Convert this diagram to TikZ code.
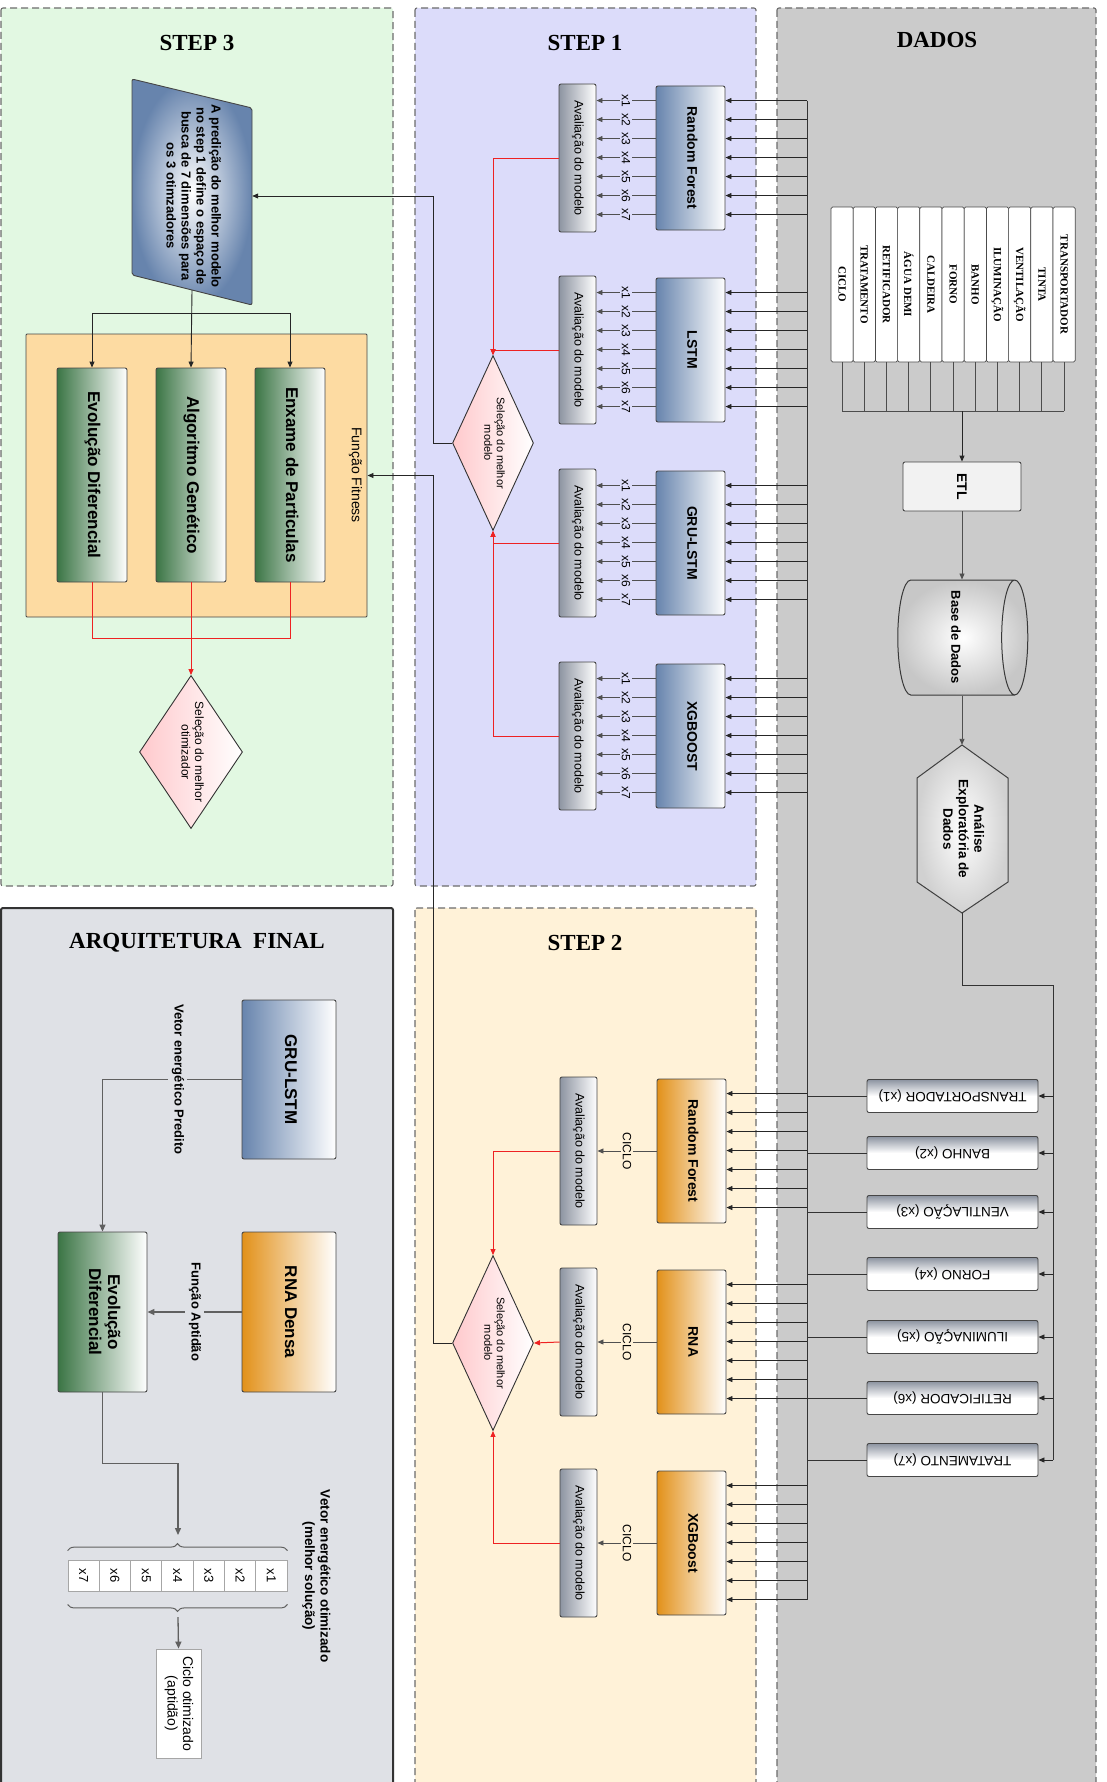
\documentclass[tikz,border=0pt]{standalone}
\usepackage{fontspec}
\setmainfont{Liberation Sans}
\newfontfamily\titlefont{Liberation Serif}
\usepackage{graphicx}
\usetikzlibrary{positioning, calc, shapes.geometric, arrows.meta, decorations.pathreplacing}

\definecolor{stepthree}{HTML}{E2F8E2}
\definecolor{stepone}{HTML}{DCDCFA}
\definecolor{steptwo}{HTML}{FFF2D8}
\definecolor{dadosbg}{HTML}{CBCBCB}
\definecolor{arqbg}{HTML}{DFE1E6}
\definecolor{fitbg}{HTML}{FDDBA2}
\definecolor{myblue}{HTML}{6784AD}
\definecolor{mygreen}{HTML}{3B7545}
\definecolor{myorange}{HTML}{E2911A}
\definecolor{evalgray}{HTML}{8D94A1}
\definecolor{mypink}{HTML}{FFC9CC}
\definecolor{lineg}{HTML}{505050}
\definecolor{myred}{HTML}{EE2222}

\newcommand{\vt}[1]{\rotatebox{-90}{\begin{tabular}{@{}c@{}}#1\end{tabular}}}

\tikzset{
	panel/.style={
			draw=gray!85!black,
			dash pattern=on 7pt off 4pt,
			line width=1.1pt,
			rounded corners=2pt
		},
	title/.style={
			font=\titlefont\bfseries\fontsize{23}{26}\selectfont,
			inner sep=0pt
		},
	basebox/.style={
			draw=gray!55!black,
			line width=0.9pt,
			rounded corners=2pt,
			inner sep=0pt
		},
	bluebox/.style={
			basebox,
			left color=myblue,
			right color=white,
			minimum width=69pt,
			minimum height=144pt,
			font=\bfseries\fontsize{14}{16}\selectfont
		},
	orangebox/.style={
			bluebox,
			left color=myorange,
			right color=white
		},
	evalbox/.style={
			basebox,
			left color=evalgray,
			right color=white,
			minimum width=37pt,
			minimum height=148pt,
			font=\fontsize{12.5}{14}\selectfont
		},
	greenbox/.style={
			basebox,
			left color=mygreen,
			right color=white,
			minimum width=70pt,
			minimum height=214pt,
			font=\bfseries\fontsize{17}{19}\selectfont
		},
	diabox/.style={
			diamond,
			draw=black!80,
			line width=0.9pt,
			left color=mypink,
			right color=white,
			inner sep=0pt
		},
	colbox/.style={
			draw=gray!60!black,
			fill=white,
			line width=0.7pt,
			rounded corners=1.5pt,
			minimum width=22.2pt,
			minimum height=155pt,
			inner sep=0pt,
			font=\titlefont\bfseries\fontsize{11}{12}\selectfont
		},
	varbox/.style={
			basebox,
			top color=evalgray,
			bottom color=white,
			middle color=white,
			minimum width=171pt,
			minimum height=33pt,
			font=\fontsize{13.5}{15}\selectfont
		},
	arrblk/.style={
			-{Triangle[length=6pt,width=5pt]},
			draw=black!85,
			line width=0.9pt
		},
	arrgray/.style={
			-{Triangle[length=6pt,width=5pt]},
			draw=lineg,
			line width=0.9pt
		},
	arrarq/.style={
			-{Triangle[length=7pt,width=6pt]},
			draw=gray!75!black,
			line width=1.3pt
		},
	redline/.style={
			draw=myred,
			line width=1pt
		},
	redarr/.style={
			redline,
			-{Triangle[length=6pt,width=5pt]}
		},
	busline/.style={
			draw=black!80,
			line width=0.9pt
		},
	xlbl/.style={
			midway,
			fill=stepone,
			inner sep=1.5pt,
			font=\fontsize{12}{13}\selectfont
		},
	ciclolbl/.style={
			midway,
			fill=steptwo,
			inner sep=1.5pt,
			font=\fontsize{12}{13}\selectfont
		},
	arqlbl/.style={
			fill=arqbg,
			inner sep=2pt,
			font=\bfseries\fontsize{13}{15}\selectfont
		},
	brace/.style={
			decorate,
			decoration={brace, amplitude=7pt},
			draw=gray!75!black,
			line width=1pt
		}
}

\begin{document}
\begin{tikzpicture}[x=1pt, y=-1pt]
\useasboundingbox (0,0) rectangle (1106,1782);

\draw[panel, fill=stepthree] (1,8) rectangle (393,886);
\draw[panel, fill=stepone] (415,8) rectangle (756,886);
\draw[panel, fill=dadosbg] (777,8) rectangle (1096,1800);
\draw[panel, fill=steptwo] (415,908) rectangle (756,1800);
\draw[draw=black!80, line width=2pt, rounded corners=2pt, fill=arqbg] (1,908) rectangle (393,1800);

\node[title] (t3) at (197,43) {STEP 3};
\node[title] (t1) at (585,43) {STEP 1};
\node[title] (td) at (937,40) {DADOS};
\node[title] (tarq) at (197,943) {ARQUITETURA\ \ FINAL};
\node[title] (t2) at (585,943) {STEP 2};

% step 3
\shade[draw=gray!55!black, line width=0.9pt, inner color=white, outer color=myblue, rounded corners=2pt]
  (132,79) -- (252,108) -- (252,305) -- (132,275) -- cycle;
\node[inner sep=0pt, minimum width=120pt, minimum height=188pt, font=\bfseries\fontsize{13}{15}\selectfont] (par) at (192,196)
  {\vt{A predição do melhor modelo\\no step 1 define o espaço de\\busca de 7 dimensões para\\os 3 otimzadores}};
\node[basebox, fill=fitbg, rounded corners=1pt, minimum width=341pt, minimum height=283pt] (fit) at (196.5,475.5) {};
\node[font=\fontsize{14}{16}\selectfont, inner sep=0pt] (fitlbl) at (355,475) {\vt{Função Fitness}};
\node[greenbox] (ed) at (92,475) {\vt{Evolução Diferencial}};
\node[greenbox] (ag) at (191,475) {\vt{Algoritmo Genético}};
\node[greenbox] (ep) at (290,475) {\vt{Enxame de Particulas}};
\node[diabox, minimum width=103pt, minimum height=153pt, aspect=0.67, font=\fontsize{12}{13.5}\selectfont] (dia3) at (191,752)
  {\vt{Seleção do melhor\\otimizador}};

\coordinate (split) at (191,313);
\coordinate (merge) at (191,638);
\draw[arrblk] (par.south) -- (ag.north);
\draw[arrblk] (split) -| (ed.north);
\draw[arrblk] (split) -| (ep.north);
\draw[redline] (ed.south) |- (merge);
\draw[redline] (ep.south) |- (merge);
\draw[redarr] (ag.south) -- (dia3.north);

% step 1
\coordinate (trunk) at (433,0);
\coordinate (bus) at (807,0);
\foreach \nm/\txt/\yc in {rf/Random Forest/158, ls/LSTM/350, gl/GRU-LSTM/543, xg/XGBOOST/736}{
  \node[bluebox] (\nm) at (690.5,\yc) {\vt{\txt}};
  \node[evalbox] (e\nm) at (577.5,\yc) {\vt{Avaliação do modelo}};
  \foreach \i in {1,...,7}{
    \coordinate (o\nm\i) at ($(\nm.north west)+(0,\i*19-4)$);
    \draw[arrgray] (o\nm\i) -- (e\nm.east |- o\nm\i) node[xlbl]{\rotatebox{-90}{x\i}};
    \draw[arrblk] (bus |- o\nm\i) -- (\nm.east |- o\nm\i);
  }
}
\node[diabox, minimum width=81pt, minimum height=175pt, aspect=0.46, font=\fontsize{11}{12.5}\selectfont] (dia1) at (493,443)
  {\vt{Seleção do melhor\\modelo}};
\draw[redarr] (erf.west) -| (dia1.north);
\draw[redarr] (els.west) -| (dia1.north);
\draw[redarr] (egl.west) -| (dia1.south);
\draw[redarr] (exg.west) -| (dia1.south);

% step 2
\foreach \nm/\txt/\yc in {rfb/Random Forest/1151, rna/RNA/1342, xgb/XGBoost/1543}{
  \node[orangebox] (\nm) at (691.5,\yc) {\vt{\txt}};
  \node[evalbox] (e\nm) at (578.5,\yc) {\vt{Avaliação do modelo}};
  \draw[arrgray] (\nm.west) -- (e\nm.east) node[ciclolbl]{\rotatebox{-90}{CICLO}};
  \foreach \i in {1,...,7}{
    \coordinate (o\nm\i) at ($(\nm.north east)+(0,\i*19-4)$);
    \draw[arrblk] (bus |- o\nm\i) -- (o\nm\i);
  }
}
\node[diabox, minimum width=81pt, minimum height=175pt, aspect=0.46, font=\fontsize{11}{12.5}\selectfont] (dia2) at (493,1343)
  {\vt{Seleção do melhor\\modelo}};
\draw[redarr] (erfb.west) -| (dia2.north);
\draw[redarr] (erna.west) -- (dia2.east);
\draw[redarr] (exgb.west) -| (dia2.south);

\draw[arrblk] (dia1.west) -| (trunk |- par.east) -- (par.east);
\draw[arrblk] (dia2.west) -| (trunk |- fit.east) -- (fit.east);

% dados
\foreach \k/\lab in {1/CICLO, 2/TRATAMENTO, 3/RETIFICADOR, 4/ÁGUA DEMI, 5/CALDEIRA, 6/FORNO, 7/BANHO, 8/ILUMINAÇÃO, 9/VENTILAÇÃO, 10/TINTA, 11/TRANSPORTADOR}{
  \node[colbox] (col\k) at (819.9+22.2*\k,284.5) {\rotatebox{-90}{\lab}};
}
\coordinate (colbus) at (962,411);
\foreach \k in {1,...,11}{
  \draw[busline, draw=black!70] (col\k.south) -- (col\k.south |- colbus);
}
\draw[busline, draw=black!70] (col1.south |- colbus) -- (col11.south |- colbus);

\node[basebox, fill=black!5, minimum width=118pt, minimum height=49pt, font=\bfseries\fontsize{14}{16}\selectfont] (etl) at (962,486.5)
  {\rotatebox{-90}{ETL}};
\node[cylinder, draw=gray!45!black, line width=1pt, aspect=0.28, inner color=white, outer color=black!22,
  minimum width=115pt, minimum height=130pt, inner sep=0pt, font=\bfseries\fontsize{13}{15}\selectfont] (db) at (956,637.5)
  {\rotatebox{-90}{Base de Dados}};
\shade[draw=gray!50!black, line width=1pt, inner color=white, outer color=black!18]
  (962,745) -- (1008,778) -- (1008,882) -- (962,913) -- (917,882) -- (917,778) -- cycle;
\node[inner sep=0pt, minimum width=91pt, minimum height=168pt, font=\bfseries\fontsize{13.5}{15.5}\selectfont] (eda) at (962,829)
  {\vt{Análise\\Exploratória de\\Dados}};

\draw[arrblk] (colbus) -- (etl.north);
\draw[arrgray] (etl.south) -- (etl.south |- db.north);
\draw[arrgray] (eda.north |- db.south) -- (eda.north);

\coordinate (rbus) at (1053,985);
\foreach \k/\lab/\yy in {1/TRANSPORTADOR/1096, 2/BANHO/1153, 3/VENTILAÇÃO/1212, 4/FORNO/1274, 5/ILUMINAÇÃO/1337, 6/RETIFICADOR/1398, 7/TRATAMENTO/1460}{
  \node[varbox] (v\k) at (952.5,\yy) {\rotatebox{180}{\lab\ (x\k)}};
  \draw[arrblk] (rbus |- v\k.east) -- (v\k.east);
  \draw[busline] (v\k.west) -- (bus |- v\k.west);
}
\draw[busline] (eda.south) |- (rbus) -- (rbus |- v7.east);
\draw[busline] (bus |- orf1) -- (bus |- oxgb7);

% arquitetura final
\node[bluebox, minimum width=94pt, minimum height=159pt, font=\bfseries\fontsize{17}{19}\selectfont] (gru2) at (289,1079.5) {\vt{GRU-LSTM}};
\node[greenbox, minimum width=89pt, minimum height=160pt] (ed2) at (102.5,1312) {\vt{Evolução\\Diferencial}};
\node[orangebox, minimum width=94pt, minimum height=160pt, font=\bfseries\fontsize{17}{19}\selectfont] (rna2) at (289,1312) {\vt{RNA Densa}};
\draw[arrarq] (gru2.west) -| (ed2.north) node[pos=0.23, arqlbl]{\vt{Vetor energético Predito}};
\draw[arrarq] (rna2.west) -- (ed2.east) node[midway, arqlbl]{\vt{Função Aptidão}};

\foreach \k/\lab in {1/x7, 2/x6, 3/x5, 4/x4, 5/x3, 6/x2, 7/x1}{
  \node[draw=gray!70, fill=white, line width=0.8pt, minimum width=31.29pt, minimum height=31pt, inner sep=0pt,
    font=\fontsize{13}{14}\selectfont] (cell\k) at (52.36+31.29*\k,1575.5) {\rotatebox{-90}{\lab}};
}
\draw[brace] (cell1.north west) ++(0,-9) -- ($(cell7.north east)+(0,-9)$);
\draw[brace] ($(cell7.south east)+(0,13)$) -- ($(cell1.south west)+(0,13)$);
\coordinate (vtop) at (178,1535);
\coordinate (vbot) at (178,1617);
\node[draw=gray!70, fill=white, line width=0.8pt, minimum width=45pt, minimum height=109pt, inner sep=0pt,
  font=\fontsize{14}{15.5}\selectfont] (ciclo) at (178.5,1703.5) {\vt{Ciclo otimizado\\(aptidão)}};
\draw[arrarq] (ed2.south) -- ++(0,71) -| (vtop);
\draw[arrarq] (vbot) -- (ciclo.north);
\node[font=\bfseries\fontsize{13.5}{15.5}\selectfont, inner sep=0pt] (vetlbl) at (316,1576)
  {\vt{Vetor energético otimizado\\(melhor solução)}};
\end{tikzpicture}
\end{document}
